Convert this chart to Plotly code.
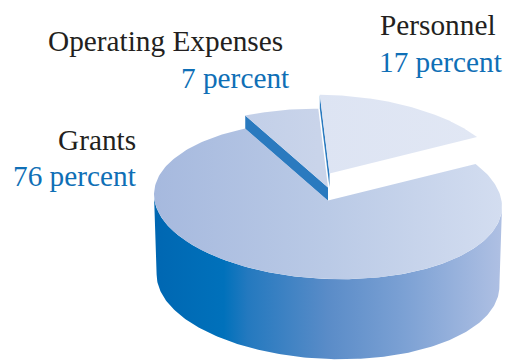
import numpy as np
import plotly.graph_objects as go

# Budget shares, in percent
categories = ["Grants", "Operating Expenses", "Personnel"]
shares = [76, 7, 17]
share_labels = ["76 percent", "7 percent", "17 percent"]

# Pie projection
CX, CY, RX, RY, TILT = 328.0, 200.5, 174.0, 78.5, 6.0
DEPTH = 80.0
START_DEG = 58.0          # clockwise from 12 o'clock, where Grants begins
LIFT = [0.0, 13.0, 27.0]  # how far each slice is raised above the base
SHIFT = [0.0, 0.0, 1.5]   # sideways pull of each slice

TOP_GRADIENTS = [
    [[0, "#a6b9de"], [0.5, "#bacae6"], [1, "#d3ddf0"]],
    [[0, "#c2cfe8"], [1, "#c9d4ea"]],
    [[0, "#dde4f3"], [1, "#e1e7f4"]],
]
WALL_GRADIENT = [
    [0, "#0067b2"], [0.2, "#0071bb"], [0.27, "#2479bf"], [0.5, "#5a8cc8"],
    [0.72, "#7ca1d4"], [0.9, "#9db5de"], [1, "#afc0e3"],
]
FACE_COLOR = "#2a7abf"
INK = "#231f20"
BLUE = "#0f6fb6"
FONT = "Liberation Serif"


def project(deg, lift=0.0, drop=0.0, shrink=1.0, shift=0.0):
    t = np.radians(deg)
    x = CX + shift + RX * shrink * np.sin(t)
    y = CY + drop - lift - RY * np.cos(t) + TILT * np.sin(t)
    return x, y


fig = go.Figure()


def polygon(xs, ys, color=None, gradient=None, start=None, stop=None):
    style = dict(fill="toself", mode="lines", line=dict(width=0),
                 hoverinfo="skip", showlegend=False)
    if gradient is not None:
        style["fillgradient"] = dict(type="horizontal", colorscale=gradient,
                                     start=start, stop=stop)
    else:
        style["fillcolor"] = color
    fig.add_trace(go.Scatter(x=list(xs), y=list(ys), **style))


# Slice boundaries in degrees
edges = START_DEG + np.cumsum([0] + [s * 3.6 for s in shares])

# Outer wall under the visible front half of the pie
front = np.linspace(90, 270, 181)
tx, ty = project(front)
bx, by = project(front, drop=DEPTH, shrink=0.985)
polygon(np.r_[tx, bx[::-1]], np.r_[ty, by[::-1]],
        gradient=WALL_GRADIENT, start=CX - RX, stop=CX + RX)

# Cut faces of the raised slices, drawn beneath their tops
for i, deg in [(2, edges[2]), (1, edges[1])]:
    ex, ey = project(deg, lift=LIFT[i], shift=SHIFT[i])
    ax, ay = CX + SHIFT[i], CY - LIFT[i]
    polygon([ex, ax, ax, ex], [ey, ay, ay + 13.5, ey + 13.5], color=FACE_COLOR)

# Slice tops
for i in range(len(shares)):
    arc = np.linspace(edges[i], edges[i + 1], 240)
    ax, ay = project(arc, lift=LIFT[i], shift=SHIFT[i])
    px, py = CX + SHIFT[i], CY - LIFT[i]
    polygon(np.r_[px, ax, px], np.r_[py, ay, py],
            gradient=TOP_GRADIENTS[i], start=ax.min(), stop=ax.max())

# Category captions
captions = [
    (categories[1], share_labels[1], 285, 291, 40.5, 77.5),
    (categories[2], share_labels[2], 498, 504, 24.5, 61.5),
    (categories[0], share_labels[0], 138, 138, 139.5, 175.5),
]
annotations = []
for name, share, x1, x2, y1, y2 in captions:
    annotations.append(dict(x=x1, y=y1, text=name, font=dict(color=INK)))
    annotations.append(dict(x=x2, y=y2, text=share, font=dict(color=BLUE)))
for a in annotations:
    a.update(xref="x", yref="y", xanchor="right", yanchor="middle", showarrow=False)
    a["font"].update(family=FONT, size=29.3)

fig.update_layout(
    width=508, height=360, margin=dict(l=0, r=0, t=0, b=0),
    paper_bgcolor="white", plot_bgcolor="white",
    xaxis=dict(range=[0, 508], visible=False, fixedrange=True),
    yaxis=dict(range=[360, 0], visible=False, fixedrange=True),
    annotations=annotations,
)
fig.write_html("out.html", config=dict(displayModeBar=False))
